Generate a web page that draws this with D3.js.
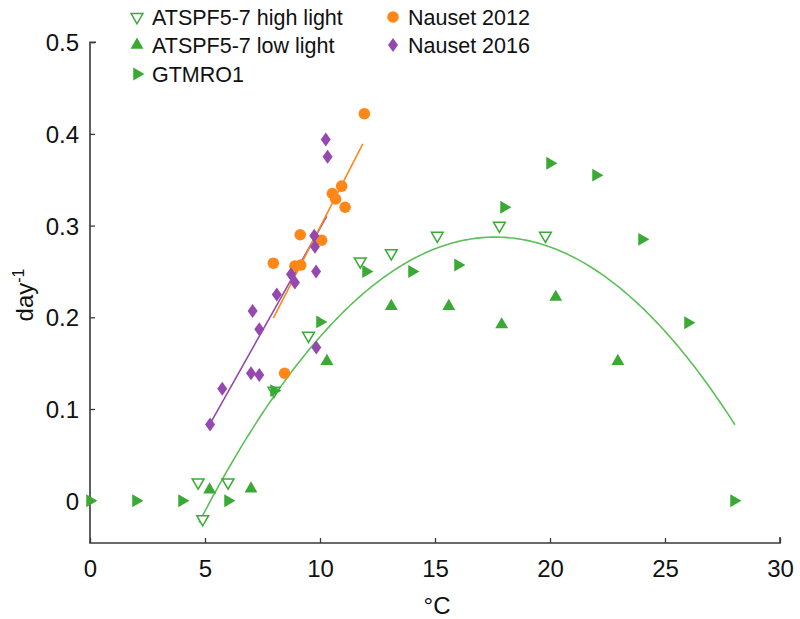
<!DOCTYPE html>
<html><head><meta charset="utf-8">
<script src="https://cdn.jsdelivr.net/npm/d3@7"></script>
<style>body{margin:0;background:#fff}text{font-family:"Liberation Sans",Arial,Helvetica,sans-serif}</style>
</head><body><svg id="c" width="800" height="619"></svg>
<script>
// ---- data (°C, day^-1) ----
const highLightX = [4.7, 4.9, 6.0, 8.0, 9.5, 11.75, 13.1, 15.1, 17.8, 19.8];
const highLightY = [0.020, -0.020, 0.020, 0.120, 0.180, 0.261, 0.270, 0.289, 0.300, 0.289];
const lowLightX = [5.2, 7.0, 10.3, 13.1, 15.6, 17.9, 20.25, 22.95];
const lowLightY = [0.012, 0.013, 0.152, 0.212, 0.212, 0.192, 0.222, 0.152];
const gtmroX = [0, 2, 4, 6, 8, 10, 12, 14, 16, 18, 20, 22, 24, 26, 28];
const gtmroY = [0, 0, 0, 0, 0.120, 0.195, 0.250, 0.250, 0.257, 0.320, 0.368, 0.355, 0.285, 0.194, 0];
const nauset2012X = [11.93, 10.94, 10.54, 10.68, 11.09, 9.14, 10.07, 7.97, 8.91, 9.16, 8.46];
const nauset2012Y = [0.422, 0.343, 0.335, 0.329, 0.320, 0.290, 0.284, 0.259, 0.256, 0.257, 0.139];
const nauset2016X = [10.25, 10.33, 9.75, 9.78, 9.83, 8.74, 8.91, 8.12, 7.07, 7.36, 9.84, 7.0, 7.36, 5.75, 5.22];
const nauset2016Y = [0.394, 0.375, 0.289, 0.277, 0.250, 0.247, 0.238, 0.225, 0.207, 0.187, 0.167, 0.139, 0.137, 0.122, 0.083];
// fitted curves
const greenFitCoef = [-0.2953, 0.0662, -0.00188]; // c, b, a
const greenFitRange = [4.74, 28.04];
const orangeFitEnds = [[7.97, 0.199], [11.86, 0.389]];
const purpleFitEnds = [[5.2, 0.083], [10.29, 0.310]];
const xTicks = [0, 5, 10, 15, 20, 25, 30];
const yTicks = [0, 0.1, 0.2, 0.3, 0.4, 0.5];
const legendLabels = ["ATSPF5-7 high light", "ATSPF5-7 low light", "GTMRO1", "Nauset 2012", "Nauset 2016"];

const GREEN = "#3aaa35", GREEN_LINE = "#5cbf57", ORANGE = "#ff8717", PURPLE = "#9448b0";

const svg = d3.select("#c");
const x = d3.scaleLinear().domain([0, 30]).range([90, 780]);
const y = d3.scaleLinear().domain([0, 0.5]).range([500.7, 42.2]);
const yBottom = 543;

// axes
const axisColor = "#3a3a3a";
const gx = svg.append("g").attr("transform", `translate(0,${yBottom})`)
  .call(d3.axisBottom(x).tickValues(xTicks).tickSize(-5).tickPadding(17).tickFormat(d3.format("d")));
const gy = svg.append("g").attr("transform", `translate(90,0)`)
  .call(d3.axisLeft(y).tickValues(yTicks).tickSize(-5).tickPadding(11).tickFormat(d => d === 0 ? "0" : d3.format(".1f")(d)));
gx.select(".domain").attr("d", `M90,-1V0H780V-6`);
gy.select(".domain").attr("d", `M6,${y(0.5)}H0V${yBottom}`);
[gx, gy].forEach(g => {
  g.selectAll(".domain").attr("stroke", axisColor).attr("stroke-width", 1.6).attr("fill", "none");
  g.selectAll(".tick line").attr("stroke", axisColor).attr("stroke-width", 1.3);
  g.selectAll(".tick text").attr("fill", "#111").style("font-size", "24px");
});
gy.selectAll(".tick text").attr("dy", "0.35em");

svg.append("text").attr("x", 437).attr("y", 614).attr("text-anchor", "middle")
  .style("font-size", "24px").attr("fill", "#111").text("°C");
const yl = svg.append("text").attr("transform", "translate(33,295) rotate(-90)").attr("text-anchor", "middle")
  .style("font-size", "24px").attr("fill", "#111");
yl.append("tspan").text("day");
yl.append("tspan").attr("dy", "-9").style("font-size", "16px").text("-1");

// fit lines
const gf = svg.append("g").attr("fill", "none");
const xs = d3.range(greenFitRange[0], greenFitRange[1], 0.1).concat([greenFitRange[1]]);
const quad = v => greenFitCoef[0] + greenFitCoef[1] * v + greenFitCoef[2] * v * v;
const line = d3.line().x(d => x(d[0])).y(d => y(d[1]));
gf.append("path").attr("d", line(xs.map(v => [v, quad(v)]))).attr("stroke", GREEN_LINE).attr("stroke-width", 1.6);
gf.append("path").attr("d", line(purpleFitEnds)).attr("stroke", PURPLE).attr("stroke-width", 1.6);
gf.append("path").attr("d", line(orangeFitEnds)).attr("stroke", ORANGE).attr("stroke-width", 1.6);

// marker factories
const tri = d3.symbol().type(d3.symbolTriangle).size(72)();
const diamond = "M0,-7L5,0L0,7L-5,0Z";
function addMarker(g, kind, cx, cy) {
  if (kind === "high") g.append("path").attr("d", d3.symbol().type(d3.symbolTriangle).size(60)())
      .attr("transform", `translate(${cx},${cy}) rotate(180)`).attr("fill", "#fff").attr("stroke", GREEN).attr("stroke-width", 1.5);
  else if (kind === "low") g.append("path").attr("d", tri).attr("transform", `translate(${cx},${cy})`).attr("fill", GREEN);
  else if (kind === "gtm") g.append("path").attr("d", tri).attr("transform", `translate(${cx},${cy}) rotate(90)`).attr("fill", GREEN);
  else if (kind === "n12") g.append("circle").attr("cx", cx).attr("cy", cy).attr("r", 5.8).attr("fill", ORANGE);
  else if (kind === "n16") g.append("path").attr("d", diamond).attr("transform", `translate(${cx},${cy})`).attr("fill", PURPLE);
}
const gp = svg.append("g");
highLightX.forEach((v, i) => addMarker(gp, "high", x(v), y(highLightY[i])));
lowLightX.forEach((v, i) => addMarker(gp, "low", x(v), y(lowLightY[i])));
gtmroX.forEach((v, i) => addMarker(gp, "gtm", x(v), y(gtmroY[i])));
nauset2012X.forEach((v, i) => addMarker(gp, "n12", x(v), y(nauset2012Y[i])));
nauset2016X.forEach((v, i) => addMarker(gp, "n16", x(v), y(nauset2016Y[i])));

// legend
const kinds = ["high", "low", "gtm", "n12", "n16"];
const legPos = [[137, 17], [137, 45], [137, 74], [393, 17], [393, 45]];
const gl = svg.append("g");
kinds.forEach((k, i) => {
  addMarker(gl, k, legPos[i][0], legPos[i][1]);
  gl.append("text").attr("x", legPos[i][0] + 15).attr("y", legPos[i][1]).attr("dy", "0.35em")
    .style("font-size", "21.5px").attr("fill", "#111").text(legendLabels[i]);
});
</script></body></html>
